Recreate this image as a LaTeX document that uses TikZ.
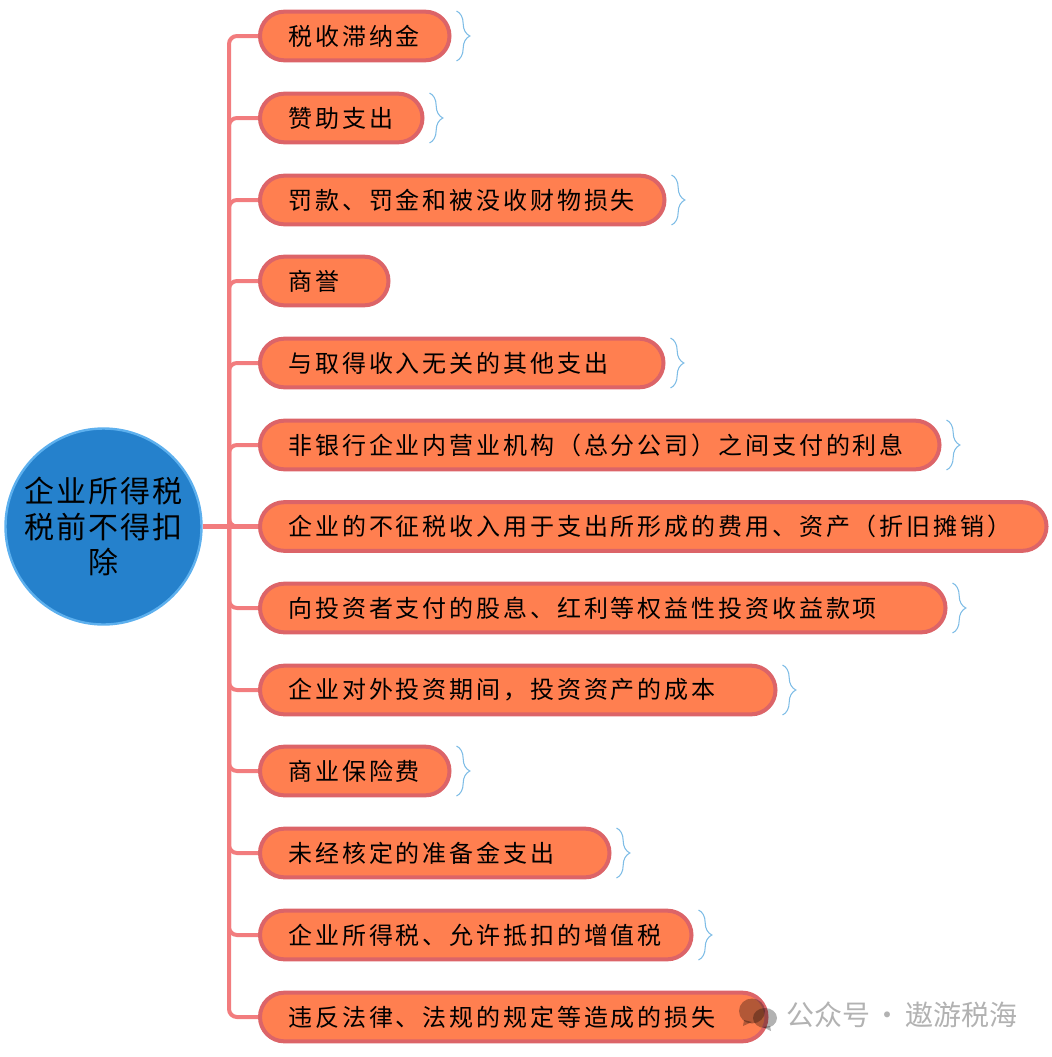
\documentclass[tikz,border=0pt]{standalone}
\usepackage{fontspec}
\setmainfont{Noto Sans CJK SC}[LetterSpace=12]
\newfontfamily\rootfont{Noto Sans CJK SC}[LetterSpace=7]
\newfontfamily\markfont{Noto Sans CJK SC}
\usepackage{xcolor}
\usepackage{tikz}
\usetikzlibrary{calc,decorations.pathreplacing}
\definecolor{pillfill}{HTML}{FF7F50}
\definecolor{pillline}{HTML}{DC6468}
\definecolor{branchline}{HTML}{F27C7E}
\definecolor{rootfill}{HTML}{2581CC}
\definecolor{rootline}{HTML}{5DB0EE}
\definecolor{braceline}{HTML}{7FBDE6}
\tikzstyle{mindmap}=[
  x=0.75pt,y=-0.75pt,font=\fontsize{18pt}{22pt}\selectfont
]
\tikzstyle{root}=[
  draw=rootline,fill=rootfill,circle,line width=1.8pt,minimum size=147pt,inner sep=0pt,align=center,
  font=\fontsize{22.5pt}{26.6pt}\selectfont\rootfont
]
\tikzstyle{pill}=[
  draw=pillline,fill=pillfill,line width=3pt,rounded corners=18.2pt,anchor=west,
  minimum height=36.5pt,inner sep=0pt
]
\tikzstyle{branch}=[
  draw=branchline,line width=3pt,rounded corners=6pt
]
\tikzstyle{bracemark}=[
  draw=braceline,line width=0.8pt,decorate,decoration={brace,amplitude=10pt}
]
\begin{document}
\begin{tikzpicture}[mindmap]
  \useasboundingbox (0,0) rectangle (1052,1057);
  \node (root) [root] at (103.5,526.5) {企业所得税\\税前不得扣\\除};
  \coordinate (trunk) at (229,526.5);
  % rows of the list
  \foreach \idx/\ypos/\rgt/\txt in {
    1/36/450/税收滞纳金,
    2/118/423/赞助支出,
    3/200/665/罚款、罚金和被没收财物损失,
    4/281/389/商誉,
    5/363/664/与取得收入无关的其他支出,
    6/445/940/非银行企业内营业机构（总分公司）之间支付的利息,
    7/526.5/1047/企业的不征税收入用于支出所形成的费用、资产（折旧摊销）,
    8/608/946/向投资者支付的股息、红利等权益性投资收益款项,
    9/690/776/企业对外投资期间，投资资产的成本,
    10/771/450/商业保险费,
    11/853/610/未经核定的准备金支出,
    12/935/692/企业所得税、允许抵扣的增值税,
    13/1017/767/违反法律、法规的规定等造成的损失}{
    \pgfmathsetlengthmacro\pillw{(\rgt-260.5)*0.75pt}
    \node (item\idx) [pill] at (258,\ypos) {\makebox[\pillw][l]{\hspace{21.3pt}\txt}};
    \draw [branch] (trunk) |- (item\idx.west);
  }
  \draw [branch,line width=3.6pt] (root.east) -- (item7.west);
  \foreach \idx in {1,2,3,5,6,8,9,10,11,12}{
    \draw [bracemark] ($(item\idx.east)+(5,-25)$) -- ($(item\idx.east)+(5,25)$);
  }
  % watermark
  \fill [black,opacity=0.3] (765,1018) ellipse (12 and 10);
  \fill [black,opacity=0.3] (770,1026) -- (771,1031) -- (763,1027) -- cycle;
  \fill [black,opacity=0.3] (752,1011) ellipse (13 and 12.5);
  \fill [black,opacity=0.3] (744,1020) -- (743,1026) -- (752,1022) -- cycle;
  \node (mark) [anchor=west,inner sep=0pt,text=black!30] at (786,1015) {\fontsize{21pt}{24pt}\selectfont\markfont 公众号 \hspace{-1.9pt}·\hspace{-1.9pt} 遨游税海};
\end{tikzpicture}
\end{document}
